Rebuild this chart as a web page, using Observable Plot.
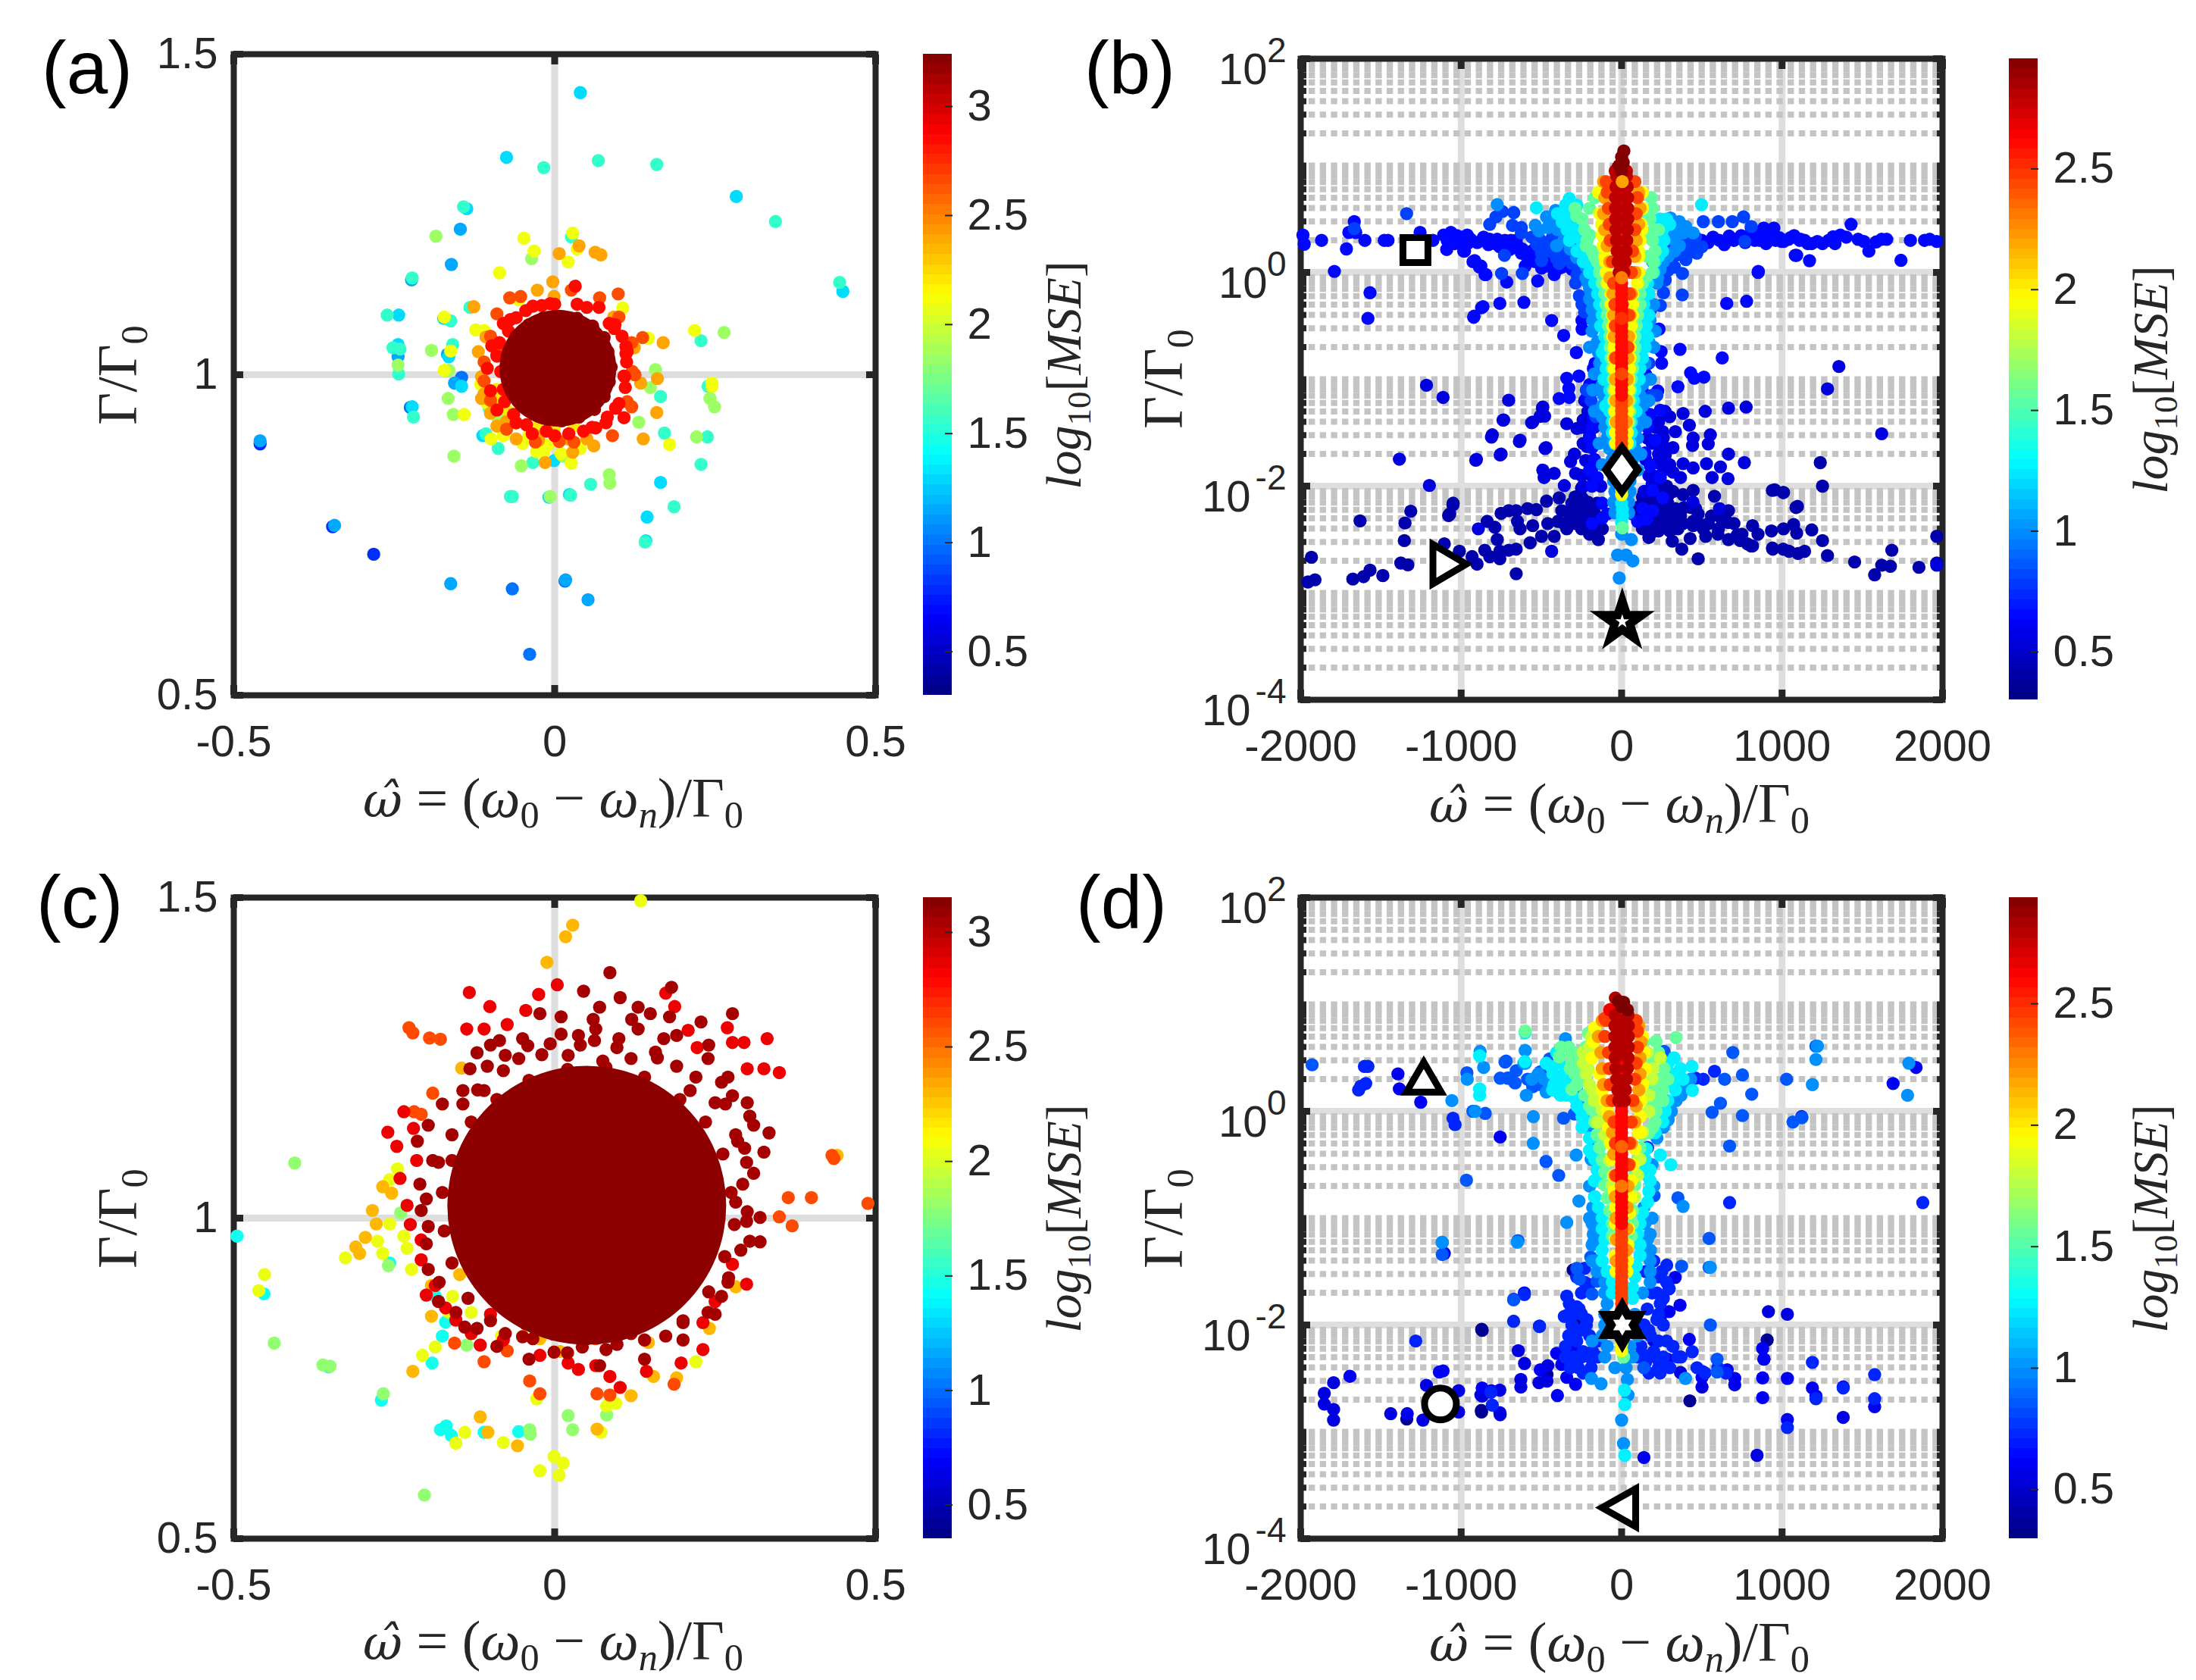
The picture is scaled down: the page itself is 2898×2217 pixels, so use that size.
<!DOCTYPE html>
<html><head><meta charset="utf-8">
<script src="https://cdn.jsdelivr.net/npm/d3@7"></script>
<script src="https://cdn.jsdelivr.net/npm/@observablehq/plot@0.6"></script>
<style>
html,body{margin:0;padding:0;background:#fff;width:2898px;height:2217px;overflow:hidden}
#page{position:relative;width:2898px;height:2217px}
#page svg{position:absolute;overflow:visible;background:transparent}
.t{position:absolute;white-space:nowrap;color:#262626;font-family:"Liberation Serif",serif;line-height:1;transform:translate(-50%,-50%)}
.r{transform:translate(-50%,-50%) rotate(-90deg)}
.t i{font-style:italic}
.t sub{font-size:.68em;vertical-align:-.28em;line-height:0}
.t i.w{font-family:"DejaVu Serif",serif;font-size:.86em}
.p{position:absolute;color:#000;font-family:"Liberation Sans",sans-serif;font-size:98px;line-height:1}
</style></head><body><div id="page"></div>
<script>
const linX=[-0.5,0,0.5], linY=[0.5,1,1.5], logX=[-2000,-1000,0,1000,2000], logExp=[-4,-2,0,2];
const minorMult=[2,3,4,5,6,7,8,9], minorExp=[-4,-3,-2,-1,0,1], oddDecades=[1e-3,1e-1,1e1];
const barA=[0.3,3.24], barB=[0.302,2.956], barC=[0.353,3.152], barD=[0.298,2.937];
const barTicksA=[0.5,1,1.5,2,2.5,3], barTicksB=[0.5,1,1.5,2,2.5];

// panel (a): [x, Γ/Γ0, ...] per colour level
const a08=[-.459,.892,-.346,.763,-.282,.72];
const a10=[-.225,.949,-.066,.666,.016,.678,-.039,.564,-.145,.996];
const a115=[-.459,.897,-.343,.765,-.162,.674,.017,.68,.052,.649,-.161,1.172,-.147,1.227,-.244,1.028,-.167,1.032,-.156,.987,-.223,1.148];
const a13=[.04,1.44,-.075,1.339,.283,1.278,-.137,1.259,-.243,1.093,-.173,1.088,-.244,1.047,-.165,1.028,-.145,.982,-.222,.95,-.112,.905,-.001,.866,.023,.813,-.009,.809,.165,.832,.142,.741,.144,.778,.449,1.13];
const a155=[-.017,1.323,.068,1.334,.159,1.328,.344,1.239,-.142,1.262,-.222,1.151,-.261,1.093,-.162,1.084,-.132,1.105,.026,1.215,-.159,1.047,-.241,1.04,-.252,1.042,-.243,1.001,-.22,.934,-.102,.948,-.107,.908,-.088,.885,-.034,.863,.023,.869,-.069,.81,-.066,.81,.025,.812,.056,.829,.186,.794,.141,.739,.228,.86,.171,.909,.238,.903,.165,.966,.239,.982,.228,1.053,.444,1.144];
const a185=[-.185,1.216,-.036,1.181,-.192,1.038,-.244,1.015,-.165,1.007,-.166,.963,-.158,.938,-.088,.931,-.157,.873,-.052,.858,.013,.873,.085,.844,.086,.831,-.007,.81,.264,1.066,.157,1.008,.149,.98,.242,.963,.249,.95,.131,.926,.221,.903];
const a21=[-.172,1.09,-.048,1.213,-.032,1.193,.028,1.221,.035,1.196,.021,1.176,-.086,1.159,.106,1.104,-.056,1.117,-.123,1.07,-.11,1.069,-.162,1.037,-.141,.938,-.083,.919,-.172,1.007,.146,1.057,.218,1.069,.245,.987,.245,.982,.179,.891,-.017,.88,-.028,.88,.01,.877,.026,.862,-.099,.9,-.041,.904,-.08,.905,-.05,.893,-.01,.89,.04,.885,-.105,.955,-.115,.985];
const a22=[-.072,.942,-.06,.925,-.028,.918,-.001,.916,.03,.92,-.091,.977,-.088,.958];
const a24=[-.126,1.106,.038,1.201,.063,1.191,.072,1.187,.007,1.189,-.003,1.145,-.027,1.132,-.001,1.122,.092,1.09,.169,1.05,.124,1.042,-.119,1.036,-.107,1.059,-.114,.997,-.114,.963,-.075,.927,.16,.994,.134,.987,.159,.941,.138,.9,.061,.889,.028,.879,-.015,.863,-.025,.898,-.09,.92,-.06,.9,-.03,.905,.02,.9,.05,.9,-.1,.94,-.11,.97];
const a265=[-.053,1.122,.026,1.132,.099,1.126,.137,1.058,.121,1.005,.113,.958,.007,.896,-.09,1.032,-.08,1.04,-.1,1.06,-.11,1.02,-.11,.99,-.1,.96,-.075,.915,-.03,.895,.03,.895,.09,.905,.12,.95,.125,1,.12,1.05,.1,1.09,.07,1.12,-.09,1.095,-.07,1.12];
const a285=[.032,1.138,.069,1.105,-.069,1.086,-.034,1.107,-.007,1.111,.035,1.11,.094,1.078,.111,1.044,.111,1.033,.108,.998,.108,.933,.095,.948,.064,.917,-.06,1.089,-.072,1.068,-.086,1.05,-.09,1.029,-.084,1.005,-.08,.977,-.078,.958,-.064,.938,-.044,.922,-.013,.912,.022,.908,.058,.918,.082,.934,.095,.948,.109,.997,.113,1.036,.093,1.072,0,1.11,.05,1.105,.085,1.08,.105,1.06,.112,1.02,.11,.98,.1,.955,.08,.925,.045,.912,0,.905,-.035,.908,-.06,.925,-.09,.945,-.1,.975,-.105,1.01,-.098,1.045,-.08,1.08,-.045,1.1,-.02,1.108];
const a31=[.007,1.091,.035,1.088,.059,1.076,.077,1.058,.083,1.036,.088,1.012,.085,.989,.077,.966,.062,.946,.038,.934,.011,.928,-.017,.934,-.042,.946,-.062,.966,-.072,.989,-.076,1.012,-.072,1.036,-.06,1.06,-.04,1.078,-.017,1.089];
const aCore=[.005,1.01];

// panel (c)
const c145=[-.495,.972,-.453,.882,-.352,.768,-.257,.93,-.27,.716,-.191,.774,-.178,.67,-.169,.676,-.161,.661,-.11,.666,-.056,.667,-.175,.816,-.17,.838,-.186,.878];
const c18=[-.405,1.086,-.437,.805,-.361,.771,-.35,.769,-.267,.726,-.24,1.008,-.259,.926,-.137,.802,-.038,.663,-.039,.67,.028,.67,.081,.693,-.203,.568,.021,.692];
const c205=[.134,1.495,-.326,.938,-.276,.964,-.268,.945,-.235,.972,-.23,.953,-.257,.991,-.461,.887,-.452,.912,-.223,.92,-.245,1.077,-.257,1.06,-.206,.786,-.186,.799,-.023,.606,.007,.599,.013,.618,.072,.666,.081,.707,.095,.711,.22,.776,-.05,.816,-.083,.816,-.028,.718,-.165,.853,-.159,.878,-.13,.853,-.001,.628,-.08,.65,-.154,.649,-.14,.666];
const c23=[-.304,.945,-.31,.955,-.278,.991,-.295,.97,-.284,1.012,-.268,1.049,-.254,1.039,-.221,.761,-.192,.847,-.192,.895,-.148,.912,-.012,1.399,.017,1.439,.028,1.457,-.116,.69,-.104,.666,-.058,.645,.066,.671,.154,.753,.19,.751,.119,.723,-.023,.812,.008,.792,.146,.806,.241,.828,.282,.893,.44,1.098,-.145,1.234];
const c26=[-.227,1.297,-.221,1.289,-.195,1.281,-.178,1.279,-.19,1.195,-.219,1.166,-.208,1.162,.488,1.023,.364,1.032,.4,1.032,.37,.988,.35,1.002,.435,1.093,.432,1.098,.066,.726,-.023,.726,-.039,.746,.186,.741,-.11,.776,-.074,.793,-.156,.805,.086,.724,.13,.849,.064,.812];
const c285=[-.133,1.352,-.101,1.33,-.11,1.295,-.137,1.295,-.074,1.302,-.045,1.324,-.025,1.349,.004,1.364,.331,1.28,.269,1.297,.295,1.274,.277,1.274,.326,1.233,.35,1.227,.3,1.233,.208,1.293,.222,1.266,.187,1.33,.173,1.351,-.26,1.134,-.235,1.166,-.246,1.112,-.241,1.062,-.208,.966,-.208,.935,-.186,.895,-.154,.841,-.116,.802,-.023,.786,.021,.774,.037,.764,.064,.77,.086,.753,.102,.736,.143,.761,.197,.774,.231,.795,.231,.837,.25,.87,.299,.897,.277,.928,-.1,.85,-.045,.835,.01,.825,.065,.83,-.23,1.02,-.225,.99,-.215,1.09,-.22,1.14,-.2,.88,-.17,.86,-.13,.82,-.08,.81];
const c30=[.086,1.383,.045,1.354,.182,1.36,.102,1.344,.13,1.329,.07,1.329,.149,1.319,.179,1.314,.228,1.306,.277,1.319,.13,1.295,-.023,1.319,.01,1.314,.064,1.295,.037,1.285,.01,1.287,-.086,1.277,-.042,1.269,-.007,1.272,.062,1.277,.19,1.285,-.121,1.258,-.077,1.254,.097,1.266,.157,1.259,.239,1.249,.26,1.212,-.132,1.233,-.105,1.237,-.056,1.249,.021,1.254,.075,1.245,.119,1.249,.19,1.237,.211,1.199,.277,1.191,.266,1.178,.304,1.159,.282,1.13,.334,1.133,.31,1.145,.326,1.103,.296,1.109,.299,1.087,.293,1.053,.282,1.025,.32,1.001,.299,.995,.304,.964,.32,.963,.271,.907,.26,.878,.239,.853,.2,.837,.173,.816,.119,.82,.097,.803,.043,.799,-.001,.791,-.034,.812,-.077,.82,-.121,.828,-.154,.853,-.181,.87,-.197,.92,-.197,.987,-.208,1.012,-.21,1.053,-.181,1.087,-.214,1.12,-.197,1.145,-.175,1.178,-.143,1.178,-.143,1.199,-.11,1.199,.25,1.012,.243,1.064,.223,1.112,.191,1.153,.15,1.185,.102,1.205,.05,1.212,-.002,1.205,-.05,1.185,-.091,1.153,-.123,1.112,-.143,1.064,-.15,1.012,-.143,.96,-.123,.912,-.091,.871,-.05,.839,-.002,.819,.05,.812,.102,.819,.15,.839,.191,.871,.223,.912,.243,.96,.275,1.04,.262,1.1,.235,1.15,.195,1.185,.14,1.22,.08,1.235,.02,1.232,-.04,1.215,-.09,1.185,-.13,1.15,-.16,1.09,-.175,1.04,-.172,.98,-.16,.93,-.135,.875,-.1,.84,-.05,.815,.02,.79,.08,.795,.14,.81,.2,.84,.24,.885,.265,.94,.28,.99,.3,1.01,.31,1.07,.285,1.12,.25,1.18,.22,1.22,.16,1.25,.1,1.28,.04,1.27,-.02,1.255,-.08,1.23,-.12,1.2,-.16,1.13,-.19,1.09,-.2,1.03,-.2,.96,-.18,.9,.25,.85,.29,.95,.27,.9,.2,.81,.14,.78,.07,.77,-.14,.83,-.09,.8,-.04,.78,.17,1.28,.12,1.31,.06,1.31,-.05,1.28,-.1,1.27,.24,1.27,.3,1.18,.27,1.22];
const cCore=[.05,1.02];

// panel (b): [x, log10(Γ/Γ0), ...] per colour level
const b042=[-1050,-2.16,-1071,-2.26,-838,-2.33,-790,-2.385,-751,-2.255,-775,-2.5,-704,-2.23,-657,-2.23,-649,-2.33,-633,-2.4,-586,-2.21,-531,-2.22,-554,-2.37,-570,-2.53,-499,-2.47,-460,-2.35,-468,-2.14,-389,-2.11,-397,-2.33,-420,-2.47,-342,-2.4,-294,-2.35,-657,-2.59,-704,-2.6,-759,-2.61,-759,-2.68,-822,-2.66,-853,-2.6,-932,-2.66,-1011,-2.61,-901,-2.73,-657,-2.82,-1105,-2.54,-145,-2.5,-247,-2.11,-200,-2.26,-153,-2.16,-216,-2.35,-184,-2.33,-279,-2.23,-310,-2.16,-373,-2.23,178,-2.04,225,-2.09,288,-2.16,335,-2.21,241,-2.23,320,-2.33,383,-2.35,446,-2.33,509,-2.4,477,-2.26,131,-2.16,115,-2.26,209,-2.35,257,-2.37,351,-2.4,162,-2.28,68,-2.26,954,-2.035,1009,-2.06,1096,-2.19,666,-2.23,663,-2.34,579,-2.095,446,-2.04,383,-2.08,288,-2.09,225,-2.16,461,-2.21,540,-2.35,603,-2.4,666,-2.5,721,-2.456,816,-2.37,784,-2.54,816,-2.56,934,-2.42,1009,-2.4,1072,-2.36,1091,-2.44,942,-2.59,1044,-2.61,1099,-2.63,477,-2.68,375,-2.59,316,-2.515,427,-2.49,524,-2.47,320,-2.4,209,-2.42,170,-2.48,446,-2.37,367,-2.28,257,-2.28,194,-2.14,288,-2.255,1964,-2.47,1684,-2.6,1964,-2.72,1675,-2.75,1621,-2.74,1577,-2.83,1853,-2.76,1452,-2.71,1283,-2.65,1140,-2.61,1185,-2.41,1252,-2.51,1007,-2.59,940,-2.58,806,-2.56,739,-2.51,1252,-2,1238,-1.78,1087,-2.2,1007,-2.06,940,-2.04,-1955,-2.897,-1911,-2.877,-1933,-2.666,-1675,-2.87,-1608,-2.847,-1568,-2.787,-1488,-2.837,-1376,-2.72,-1332,-2.737,-1354,-2.51,-1350,-2.345,-1314,-2.235,-1630,-2.325,-1078,-2.275,-1051,-2.175,-300,-2.3,-260,-2.2,-230,-2.3,-170,-2.25,-130,-2.3,-120,-2.4,-250,-2.4,-200,-2.45,-160,-2.4,-330,-2.25,-360,-2.35,-290,-2.1,-250,-2.02,-210,-2.15,100,-2.2,140,-2.3,180,-2.25,220,-2.3,270,-2.2,300,-2.3,340,-2.32,130,-2.4,170,-2.38,230,-2.42,300,-2.42,390,-2.2,430,-2.2,480,-2.35,560,-2.28,620,-2.3,700,-2.35,750,-2.45,850,-2.45,600,-2.45,130,-2.1,170,-2.05,230,-2,280,-2,320,-2.05];
const b055=[383,-1.32,521,-1.3,666,-1.27,776,-1.26,422,-1.43,335,-1.49,257,-1.49,209,-1.45,446,-1.55,553,-1.52,540,-1.605,442,-1.62,666,-1.7,765,-1.78,383,-1.79,446,-1.83,529,-1.79,616,-1.82,564,-1.92,663,-1.93,320,-1.87,367,-1.92,257,-1.62,320,-1.64,272,-1.71,225,-1.78,194,-1.9,-735,-1.38,-554,-1.4,-491,-1.26,-480,-1.345,-806,-1.52,-633,-1.57,-471,-1.64,-751,-1.7,-905,-1.75,-491,-1.85,-420,-1.88,-483,-1.92,-294,-1.7,-318,-1.77,-287,-1.88,-357,-1.995,-342,-1.416,-239,-1.38,-279,-1.46,-200,-1.53,-216,-1.63,-224,-1.76,-184,-1.83,-153,-1.92,-1385,-1.748,-1198,-1.994,-909,-1.758,-757,-1.708,-811,-1.542,-637,-1.582,-739,-1.382,-561,-1.407,-704,-1.196,-494,-1.271,-508,-1.347,-477,-1.648,-1216,-1.056,-1113,-1.17,1354,-.88,1283,-1.09,1621,-1.51,1964,-2.74,-893,-2.4,-436,-2.61,154,-2.31,445,-2.15,610,-2.21,-230,-1.2,-210,-1.3,-250,-1.45,-170,-1.45,-160,-1.6,-240,-1.6,-170,-1.75,-250,-1.9,-190,-1.9,-240,-2,-130,-2,140,-1.3,180,-1.4,230,-1.4,270,-1.3,160,-1.55,190,-1.6,260,-1.55,150,-1.75,230,-1.7,290,-1.65,170,-1.9,260,-1.85,140,-2.05,190,-1.98,300,-1.35,300,-1.8];
const b065=[-1986,.35,-1978,.264,-1870,.3,-1715,.22,-1700,.374,-1666,.475,-1657,.374,-1600,.3,-1479,.3,-1456,.3,-1256,.374,-1109,.35,-1064,.374,-1087,.3,-1176,.3,-962,.35,-975,.264,-984,.2,-926,.1,-886,.05,-851,-.02,-1790,.01,-1568,-.19,-1581,-.43,-922,-.42,-873,-.33,-1090,.32,-1027,.345,-979,.2,-940,.31,-1090,.215,-916,.11,-877,.06,-846,-.02,-716,-.09,-523,-.08,-609,-.28,-864,-.32,-920,-.41,-436,-.45,-361,-.59,-282,-.75,-759,-.29,-165,-.85,-176,-.9,-266,-.97,-342,-.99,-329,-1.085,-389,-1.18,-326,-1.17,-200,-1.05,-216,-1.17,-153,-1.05,-247,-.45,-246,-.53,1964,.29,1888,.3,1741,.113,1652,.31,1586,.285,1541,.2,1474,.31,1430,.45,1363,.35,1318,.334,1252,.27,1185,.27,1171,.11,1082,.16,1051,.324,984,.324,895,.324,851,0,852,.01,1091,.16,655,-.29,779,-.27,627,-.8,430,-.94,453,-.99,513,-.98,351,-1.07,225,-1.11,131,-1.12,170,-1.17,246,-.74,364,-.72,249,-.85,150,-.955,233,-.53,-822,.31,-775,.31,-727,.3,-696,.215,-657,.3,-625,.18,-601,.06,-562,.14,-499,.04,-420,-.02,-389,.04,-145,-1.3,-176,-1.36,-184,-1.45,-200,-1.55,-184,-1.64,-168,-1.76,-200,-1.85,-153,-1.92,-184,-2,-121,-2.16,-90,-2.26,-184,-2.35,-121,-2.3,178,-1.33,241,-1.29,162,-1.45,209,-1.57,146,-1.69,178,-1.81,241,-1.92,194,-2.04,257,-2.11,131,-2.21,194,-2.23,99,-2.33,154,-2.31,1141,.3,808,.415,886,.415,949,.415,745,.345,855,.345,1075,.345,1115,.31,997,.29,-1040,.27,-1000,.33,-960,.27,-900,.28,-860,.33,-830,.26,-790,.27,-760,.24,-720,.26,-690,.3,-650,.25,-620,.22,-590,.15,-560,.2,-540,.1,-510,.13,-480,.18,-460,.06,-440,.12,-410,.07,-370,.05,-340,.09,-310,.03,500,.3,540,.28,570,.33,610,.3,640,.26,670,.34,700,.3,730,.32,770,.28,800,.34,830,.3,860,.3,900,.27,930,.32,960,.3,1010,.29,1040,.31,1110,.3,1160,.27,1220,.29,1290,.3,1330,.27,1400,.33,1510,.29,1620,.31,1800,.3,1920,.31];
const b08=[-730,.16,-748,-.01,-619,-.01,-783,.52,-822,.45,-680,.44,-625,.42,-743,.57,-672,.56,-625,.37,-531,.27,-515,.32,-436,.27,-405,.13,-499,.11,-389,.085,-342,.16,-310,.085,-263,.06,-279,-.02,-287,-.1,-263,-.22,-247,-.3,-231,-.37,217,-.02,272,-.07,261,-.19,241,-.31,181,-.35,146,-.68,170,-.85,379,-.01,378,-.21,-1340,.55,-1666,.41,509,.475,603,.475,690,.475,760,.52,808,.43,768,.29,469,.18,414,.18,296,.227,304,.13,-560,.33,-520,.25,-500,.18,-470,.28,-450,.2,-430,.33,-400,.18,-380,.28,-360,.13,-340,.21,-320,.3,-300,.13,-280,.09,-260,.16,-240,.04,400,.33,430,.27,460,.33,500,.24,370,.22,340,.16,400,.12,330,.05,290,.02,260,-.02,240,-.08,-170,-1.1,-190,-1.2,-220,-1.1,-160,-1.35,150,-1.2,190,-1.15,220,-1.15,130,-1.4];
const b10=[-223,-.05,-200,-.15,-200,-.25,-184,-.35,-168,-.45,-184,-.55,-152,-.65,-144,-.75,-137,-.85,-129,-.95,-121,-1.05,-113,-1.15,-121,-1.25,-121,-1.35,-105,-1.45,-90,-1.55,-74,-1.65,-58,-1.75,-58,-1.85,-50,-1.95,-42,-2.05,-50,-2.15,-42,-2.25,225,-.05,162,-.25,177,-.45,170,-.65,146,-.85,130,-1.05,115,-1.15,130,-1.25,115,-1.35,99,-1.45,99,-1.55,83,-1.65,68,-1.75,52,-1.95,52,-2.05,44,-2.15,44,-2.25,-775,.635,-538,.44,-468,.52,-412,.58,-436,.46,-515,.39,-405,.25,-373,.39,-310,.39,359,.475,304,.51,383,.37,446,.37,327,.39,241,.44,194,.1,209,.06,0,-2.45,28,-2.645,-25,-2.645,60,-2.5,70,-2.7,-15,-2.86,-460,.42,-430,.5,-400,.4,-380,.5,-360,.3,-340,.42,-320,.22,-300,.3,-280,.14,-260,.25,-240,.15,-220,.05,-210,-.1,-190,-.2,-180,-.45,-200,-.7,-170,-.95,-180,-1.1,-170,-1.3,-140,-1.6,-120,-1.8,400,.43,360,.4,330,.3,300,.34,360,.25,330,.2,290,.15,260,.1,240,.03,220,-.1,200,-.3,210,-.55,200,-.7,180,-1,170,-1.2,150,-1.4,120,-1.7,100,-1.85];
const b125=[-340,.6,-294,.55,-356,.5,-340,.4,-325,.3,-278,.2,-239,.1,-200,0,-168,-.1,-144,-.2,-137,-.3,-121,-.4,-113,-.5,-105,-.6,-105,-.7,-97,-.8,-97,-.9,-82,-1,-74,-1.1,-74,-1.2,-74,-1.3,-58,-1.4,-58,-1.5,-42,-1.6,240,.5,256,.4,264,.3,256,.2,209,.1,200,0,162,-.1,146,-.2,138,-.3,138,-.4,154,-.5,162,-.6,146,-.7,130,-.8,115,-.9,83,-1,83,-1.1,75,-1.2,68,-1.3,60,-1.4,60,-1.5,52,-1.6,-531,.605,498,.634,0,-2.16,5,-2.22,5,-2.28,0,-2.34,-326,.69,-350,.63,-279,.63,-400,.55,-370,.47,-310,.5,-280,.4,-260,.32,-240,.27,-220,.15,-180,.05,-150,-.2,-130,-.5,-120,-.75,-110,-1,-100,-1.25,280,.5,300,.45,250,.35,230,.15,220,.25,170,-.2,170,-.4,130,-.6,110,-1,90,-1.3];
const b155=[-168,.7,-200,.6,-247,.5,-231,.4,-215,.3,-184,.2,-152,.1,-137,0,-121,-.1,-105,-.2,-97,-.3,-90,-.4,-82,-.5,-74,-.6,-71,-.7,-66,-.8,-58,-.9,-52,-1,-52,-1.1,-50,-1.2,-46,-1.3,-42,-1.4,185,.7,193,.6,177,.5,200,.4,193,.3,209,.2,200,.1,193,0,130,-.1,115,-.2,115,-.3,100,-.4,91,-.5,83,-.6,83,-.7,75,-.8,68,-.9,60,-1,55,-1.1,52,-1.2,52,-1.3,49,-1.4,5,-2.39,-280,.53,-290,.6,-220,.25,-200,.35,-170,.15,-120,.05,140,.55,170,.35,160,.15,230,.4,150,-.05];
const b195=[-145,.75,-137,.55,-121,.35,-105,.15,-97,0,-90,-.1,-66,-.2,-66,-.3,-58,-.4,-58,-.5,-55,-.6,-50,-.7,-50,-.8,-46,-.9,-42,-1,-42,-1.1,-42,-1.2,-42,-1.3,-39,-1.4,-39,-1.5,-36,-1.6,130,.75,130,.6,122,.45,115,.3,107,.15,107,0,99,-.1,70,-.2,68,-.3,68,-.4,60,-.5,55,-.6,52,-.7,52,-.8,49,-.9,44,-1,44,-1.1,39,-1.2,39,-1.3,36,-1.4,36,-1.5,36,-1.6,0,-2.08,0,-2.03,-125,.45,-115,.25,-100,.1,125,.4,105,.2];
const b22=[-113,.85,-105,.7,-113,.55,-105,.4,-90,.25,-74,.1,-74,-.05,-55,-.2,-50,-.4,-46,-.6,-42,-.8,-39,-1,-36,-1.2,-33,-1.4,107,.75,115,.6,107,.45,91,.3,83,.15,83,0,60,-.2,52,-.4,44,-.6,39,-.8,36,-1,33,-1.2,30,-1.4];
const b245=[-97,.85,-90,.75,-82,.6,-77,.45,-71,.3,-58,.1,-50,-.1,-42,-.3,-39,-.5,-36,-.8,83,.85,99,.7,91,.55,83,.4,68,.2,60,0,49,-.2,44,-.4,39,-.7,0,-1.2,0,-1.25,0,-1.3,0,-1.35,0,-1.4,0,-1.45,0,-1.5,0,-1.55,0,-1.6,0,-1.65,0,-1.7,0,-1.75,0,-1.8,0,-1.85];
const b26=[0,.45,0,.4,3,.35,0,.3,-3,.25,0,.2,0,.15,3,.1,0,.05,0,0,0,-.1,0,-.15,0,-.2,0,-.25,3,-.3,0,-.35,0,-.4,0,-.45,0,-.5,0,-.55,0,-.6,0,-.65,0,-.7,0,-.75,0,-.8,0,-.85,0,-.9,0,-.95,0,-1,0,-1.05,0,-1.1,0,-1.15];
const b275=[0,.9,0,.85,0,.8,0,.75,0,.7,0,.65,0,.6,0,.55,0,.5];
const b28=[-30,.9,30,.9,-35,.8,35,.8,-38,.7,38,.7,-38,.6,38,.6,-38,.5,38,.5,-36,.4,36,.4,-32,.3,32,.3,-28,.2,28,.2,-22,.1,22,.1,-15,0,15,0,-40,.95,30,.95,-25,.98,15,.97];
const b295=[14,1.137,0,1.08,10,1.03,-15,1,0,.94];
const bTop=[0,-.05,0,-.43,0,-.95,4,.85];
const bTopCols=[2.3,2.5,2.45,2.2];

// panel (d)
const d035=[-872,-2.04,-874,-2.8,907,-2.14,425,-2.71,139,-2.29,-302,-1.485,-255,-1.99,-465,-2.465,-1339,-2.88,-873,-2.815,-869,-2.05];
const d055=[-1795,-2.54,-1853,-2.64,-1853,-2.74,-1795,-2.79,-1795,-2.89,-1439,-2.83,-1238,-2.89,-1216,-2.565,-1016,-2.615,-1016,-2.815,-869,-2.665,-757,-2.84,-644,-2.24,-605,-2.36,-628,-2.51,-628,-2.58,-465,-2.525,-460,-2.38,-877,-2.655,-759,-2.61,-759,-2.82,915,-1.875,1033,-1.9,844,-3.22,887,-2.32,367,-2.445,501,-2.58,1381,-2.865,-515,-2.54,202,-2.15];
const d06=[-672,-1.76,-606,-1.7,-512,-2.01,-405,-2.265,-373,-2.37,-342,-2.49,-287,-2.555,-400,-2.66,-294,-2.23,-294,-2.35,-1113,-2.43,-1105,-1.33,-507,-2.42,-1693,-2.48,-1136,-2.44,-869,-2.59,-813,-2.615,334,-1.555,296,-1.66,364,-1.815,296,-1.875,241,-1.945,422,-2.135,288,-2.32,501,-2.49,509,-2.44,705,-2.5,705,-2.56,658,-2.42,879,-2.22,887,-2.32,879,-2.495,879,-2.68,1033,-2.5,1033,-2.885,139,-3.24,-1336,-2.83,-1252,.085,-1394,.35,-1385,.21,1211,-2.665,1189,-2.59,1381,-2.58,1577,-2.765,1692,.26,-757,-.24,1835,.41];
const d07=[-1581,.42,-1595,.26,-1639,.2,-1626,.235,-1603,.42,-1051,-.065,-1038,-.125,-428,.35,-384,.16,-392,.205,-673,-1.965,-606,-1.715,-512,-2.015,-342,-1.73,-326,-1.8,-357,-1.92,-310,-2.11,-279,-1.83,-806,-2.75,-814,-2.63,-1283,-2.15,281,-1.44,296,-1.66,241,-1.8,257,-2.33,162,-2.29,225,-2.32,1189,-2.35,1211,-2.69,1381,-2.59,1577,-2.69,1577,-2.465,673,-.855,1122,-.05,-231,-1.47,-200,-1.62,-250,-1.7,-265,-1.85,-300,-1.9,-216,-1.95,-260,-2.05,-280,-2.15,-200,-2.1,-240,-2.25,-200,-2.3,-150,-2.3,-300,-2.3,-350,-2.2,-270,-2.4,-190,-2.4,150,-1.5,230,-1.55,190,-1.7,160,-1.85,220,-1.95,140,-2,180,-2.1,230,-2.15,120,-2.2,200,-2.25,150,-2.35,100,-2.3,170,-2.45,230,-2.4,162,-.34,1033,-2.96,579,.375,509,.3,461,.31,1877,-.855,-330,-1.9,-310,-2,-330,-2.1,-290,-2.1,-350,-2.3,-320,-2.4,-250,-2.3,-240,-2.45,-180,-2.25,-150,-2.15,-220,-2,170,-2.05,120,-2,230,-1.9,260,-2,280,-2.15,320,-2.2,350,-2.3,300,-2.4,260,-2.3,240,-2.45,370,-2.3,440,-2.25,470,-2.4,520,-2.45,600,-2.4,650,-2.45,-230,-1.6,-280,-1.55,-250,-1.9,200,-1.4,250,-1.5,280,-1.6,220,-1.7,260,-1.75];
const d085=[-1929,.435,-757,.31,-726,.46,-704,.31,-720,.47,-657,.38,-712,.31,-664,.265,-586,.3,-554,.23,-507,.37,-507,.25,-449,.49,-967,-.645,-362,-.065,-294,-.025,-471,-.47,-392,-.6,-646,-1.21,-927,0,-850,-.02,-964,.36,265,.56,374,-1.45,202,-.79,351,-.81,545,-1.19,564,-.01,616,.075,753,-.04,642,.3,693,.55,753,.34,811,.16,673,-.325,1068,-.1,1028,.3,1211,.61,1124,-.06,545,-1.46,553,-2,595,-2.32,595,-2.44,-1118,-1.23,-1118,-1.34,-673,-1.765,-279,-1.47,-263,-1.57,-192,-1.365,-184,-1.71,-153,-1.59,138,-2.4];
const d10=[-609,.45,-594,.15,-601,.57,-962,.3,-882,.56,-860,.41,-913,0,-600,.45,-350,.68,-1118,-1.225,-650,-1.225,-550,-.05,-551,-.3,-283,-.41,-266,-.84,-342,-1.04,-1058,.1,383,-.89,398,-2.5,553,-1.46,1189,.25,1211,.485,1220,.61,1790,.45,1782,.15,-168,-.8,-160,-.95,-184,-1.05,-176,-1.15,-184,-1.25,-184,-1.4,-153,-1.5,-105,-1.6,-105,-1.7,-90,-1.8,-105,-1.9,-105,-2,-121,-2.1,-184,-2.15,-90,-2.2,-105,-2.3,-42,-2.4,139,-.9,146,-1.05,178,-1.15,162,-1.2,146,-1.3,178,-1.4,178,-1.5,178,-1.6,131,-1.7,83,-1.9,99,-2.1,52,-2.2,68,-2.3,28,-2.4,-188,-2.5,-128,-2.55,36,-2.51,40,-2.655,12,-3.11,0,-2.89,-560,.3,-520,.35,-480,.3,-470,.18,-450,.25,-400,.25,-340,.35,-310,.3,-280,.2,-250,.1,-230,0,-210,-.15,-170,-.3,-190,-.45,-200,-.7,-180,-.9,-200,-1,-170,-1.2,-160,-1.4,430,.3,400,.25,370,.15,340,.1,310,0,290,-.08,260,-.15,220,-.25,190,-.5,200,-.7,190,-1,180,-1.3];
const d125=[-405,.55,-389,.45,-357,.35,-389,.25,-342,.25,-342,.15,-279,.05,-247,-.05,-247,-.15,-200,-.25,-184,-.4,-168,-.45,-153,-.55,-145,-.65,-168,-.8,-145,-.9,-121,-1,-121,-1.1,-105,-1.2,-121,-1.3,-121,-1.4,-90,-1.5,-58,-1.6,-58,-1.7,327,.5,367,.4,383,.3,335,.2,288,.1,272,0,257,-.1,194,-.2,154,-.35,146,-.45,146,-.55,178,-.65,170,-.75,162,-.85,131,-.95,115,-1.05,100,-1.15,115,-1.25,115,-1.35,91,-1.45,83,-1.55,68,-1.65,68,-1.75,-603,.465,-885,.15,-885,.21,-885,.52,-601,.735,-428,.35,-420,.25,-200,-.365,241,-.41,307,-.5,178,-.55,441,.195,438,.42,18,-2.61,20,-3.22,20,-2.745,-470,.45,-440,.42,-430,.2,-380,.15,-340,.4,-300,.35,-290,.12,-260,.02,-220,-.1,-170,-.65,-130,-.3,290,.45,330,.35,300,.25,340,.3,230,-.05,210,-.2,160,-.6];
const d155=[-601,.75,-376,.6,-389,.51,-310,.525,-208,.73,-224,.6,-247,.49,-271,.37,-279,.25,-184,.135,-184,.016,-168,-.1,-153,-.22,-137,-.34,-121,-.456,-105,-.57,-105,-.69,-90,-.81,-74,-.93,-58,-1.05,-58,-1.165,139,.65,178,.5,194,.4,241,.3,209,.3,288,.3,178,.2,257,.2,178,.1,257,.1,178,0,209,-.1,194,-.15,131,-.22,115,-.34,100,-.45,83,-.57,83,-.69,75,-.81,68,-.93,68,-1.05,60,-1.165,214,.655,339,.69,-310,.44,-310,.205,12,-2.3,-330,.6,-300,.55,-270,.5,-320,.4,-290,.35,-250,.3,-230,.15,-200,.05,-140,-.05,-120,-.25,-100,-.45,-85,-.7,230,.55,265,.4,250,.3,215,.2,225,.1,215,0,170,-.2];
const d18=[-200,.49,-200,.25,-121,.016,-105,-.22,-74,-.456,-58,-.69,194,.4,241,.5,131,-.195,115,-.45,100,-.6,83,-.8,-200,.6,-240,.55,-190,.7,-208,.4,-170,.1,-150,-.1,-240,.45,-220,.35,-180,.2,-130,.2,-100,-.1,160,.55,190,.3,170,.15,170,0];
const d195=[-168,.78,-176,.65,-184,.5,-137,.35,-121,.2,-105,.1,-90,0,-82,-.15,-71,-.3,-58,-.45,-50,-.6,-46,-.75,-39,-.9,-38,-1.05,-39,-1.2,-39,-1.35,-35,-1.5,131,.7,139,.55,146,.4,131,.25,122,.1,115,-.05,107,-.2,83,-.35,71,-.5,60,-.65,55,-.8,49,-.95,44,-1.1,39,-1.25,36,-1.4,33,-1.5,0,-2.24,0,-2.18,115,-.195];
const d22=[-121,.85,-145,.7,-129,.55,-121,.4,-113,.25,-90,.1,-77,-.05,-58,-.2,-49,-.4,-42,-.6,-39,-.8,-35,-1,-33,-1.2,-33,-1.4,107,.8,122,.65,115,.5,115,.35,107,.2,91,.05,83,-.1,60,-.3,49,-.5,39,-.7,36,-.9,33,-1.1,30,-1.3];
const d245=[-105,.87,-97,.85,-105,.7,-82,.55,-77,.4,-71,.25,-58,.1,-47,-.1,-39,-.3,-35,-.6,91,.85,99,.75,99,.6,91,.45,83,.3,71,.1,60,-.1,49,-.3,44,-.5,0,-1.1,0,-1.15,0,-1.2,0,-1.25,0,-1.3,0,-1.35,0,-1.4,0,-1.45,0,-1.5,0,-1.55,0,-1.6,0,-1.65,0,-1.7,0,-1.75,0,-1.8,0,-1.85,0,-1.9];
const d26=[0,.5,0,.45,0,.4,3,.35,0,.3,0,.25,0,.2,-3,.15,0,.1,0,.05,0,0,0,-.05,0,-.1,0,-.15,0,-.2,0,-.25,0,-.3,0,-.35,0,-.4,0,-.45,0,-.5,0,-.55,0,-.6,0,-.65,0,-.7,0,-.75,0,-.8,0,-.85,0,-.9,0,-.95,0,-1,0,-1.05];
const d265=[-74,.95];
const d28=[-39,1.06,-40,.9,40,.9,-42,.8,42,.8,-42,.7,42,.7,-42,.6,42,.6,-40,.5,40,.5,-36,.4,36,.4,-30,.3,30,.3,-24,.2,24,.2,-18,.1,18,.1,0,.85,0,.8,0,.75,0,.7,0,.65,0,.6,0,.55];
const d295=[13,1.02,-19,1.03,36,.95,0,.98];
const dTop=[0,-.33,0,-.7];
const dTopCols=[2.35,2.3];

// marker positions on the (b) and (d) panels: x, log10(Γ/Γ0)
const bSquare=[-1285,.21], bRightTri=[-1105,-2.73], bDiamond=[2,-1.846], bStar=[4,-3.267];
const dUpTri=[-1233,.289], dCircle=[-1129,-2.74], dHexagram=[4,-2], dLeftTri=[-14,-3.71];

const jet=d3.piecewise(d3.interpolateRgb,["#000080","#0000ff","#0080ff","#00ffff","#80ff80","#ffff00","#ff8000","#ff0000","#800000"]);
const ink="#262626", sans="Liberation Sans, sans-serif";
const page=document.getElementById("page");
const DOT=8.7;

function table(groups,log){
  const out=[];
  for(const [c,flat] of groups) for(let i=0;i<flat.length;i+=2) out.push({x:flat[i],y:log?10**flat[i+1]:flat[i+1],c});
  return out;
}
function path(pts){return {draw(ctx){pts.forEach((p,i)=>i?ctx.lineTo(p[0],p[1]):ctx.moveTo(p[0],p[1]));ctx.closePath();}};}
function star(n,R,r){const p=[];for(let i=0;i<2*n;i++){const a=-Math.PI/2+i*Math.PI/n,q=i%2?r:R;p.push([q*Math.cos(a),q*Math.sin(a)]);}return path(p);}
const symSquare=path([[-16.5,-16.5],[16.5,-16.5],[16.5,16.5],[-16.5,16.5]]);
const symRight=path([[-15,-26],[29,0],[-15,26]]);
const symLeft=path([[-23,0],[21.5,-25],[21.5,25]]);
const symUp=path([[0,-24],[23,15.5],[-23,15.5]]);
const symDiamond=path([[0,-29],[21,0],[0,29],[-21,0]]);
function marker(pos,symbol,strokeWidth){
  return Plot.dot([{x:pos[0],y:10**pos[1]}],{x:"x",y:"y",symbol,r:21,fill:"white",stroke:"black",strokeWidth,strokeLinejoin:"miter",strokeMiterlimit:12});
}
function place(svg,left,top){svg.style.left=left+"px";svg.style.top=top+"px";page.appendChild(svg);}

const ML=240,MR=40,MT=40,MB=110,W=847,H=846;
function frameParts(){return Plot.frame({stroke:ink,strokeWidth:8});}
function axisParts(xt,yt,ym){
  const tick={stroke:ink,strokeWidth:9,tickSize:-13,text:null,label:null};
  return [
    Plot.axisX(xt,{anchor:"bottom",...tick}),Plot.axisX(xt,{anchor:"top",...tick}),
    Plot.axisY(yt,{anchor:"left",...tick}),Plot.axisY(yt,{anchor:"right",...tick}),
    ym?Plot.axisY(ym,{anchor:"left",...tick,tickSize:-8,strokeWidth:8}):null,
    ym?Plot.axisY(ym,{anchor:"right",...tick,tickSize:-8,strokeWidth:8}):null,
    Plot.axisX(xt,{anchor:"bottom",tickSize:0,tickPadding:39,fontSize:58,fontFamily:sans,fill:ink,label:null,tickFormat:d=>String(d)})
  ];
}
function linearPanel(left,top,dom,groups,core,coreR,coreC){
  const pts=table(groups,false);
  const svg=Plot.plot({width:ML+W+MR,height:MT+H+MB,marginLeft:ML,marginRight:MR,marginTop:MT,marginBottom:MB,
    x:{domain:[-.5,.5]},y:{domain:[.5,1.5]},color:{type:"linear",domain:dom,interpolate:jet},
    style:{background:"transparent",overflow:"visible"},
    marks:[
      Plot.ruleX([0],{stroke:"#dedede",strokeWidth:9}),Plot.ruleY([1],{stroke:"#dedede",strokeWidth:9}),
      frameParts(),...axisParts(linX,linY,null),
      Plot.axisY(linY,{anchor:"left",tickSize:0,tickPadding:21,fontSize:58,fontFamily:sans,fill:ink,label:null,tickFormat:d=>String(d)}),
      Plot.dot(pts,{x:"x",y:"y",fill:"c",r:DOT}),
      Plot.dot(table([[coreC,core]],false),{x:"x",y:"y",fill:"c",r:coreR})
    ]});
  place(svg,left-ML,top-MT);
}
function logPanel(left,top,dom,groups,topRows,markers){
  const pts=table(groups,true).concat(topRows);
  const minor=[];
  for(const k of minorExp) for(const m of minorMult) minor.push(m*10**k);
  minor.push(...oddDecades);
  const pos=logExp.filter(e=>e>=0), neg=logExp.filter(e=>e<0);
  const ten=(list,dx)=>Plot.text(list,{frameAnchor:"left",y:e=>10**e,text:()=>"10",textAnchor:"end",lineAnchor:"middle",dx,dy:15,fontSize:58,fontFamily:sans,fill:ink});
  const svg=Plot.plot({width:ML+W+MR,height:MT+H+MB,marginLeft:ML,marginRight:MR,marginTop:MT,marginBottom:MB,
    x:{domain:[-2000,2000]},y:{type:"log",domain:[1e-4,1e2]},color:{type:"linear",domain:dom,interpolate:jet},
    style:{background:"transparent",overflow:"visible"},
    marks:[
      Plot.ruleX([-1000,0,1000],{stroke:"#dedede",strokeWidth:9}),
      Plot.ruleY([1,1e-2],{stroke:"#dedede",strokeWidth:9}),
      Plot.ruleY(minor,{stroke:"#c4c4c4",strokeWidth:8,strokeDasharray:"8.3 6.4",strokeDashoffset:3.7}),
      frameParts(),...axisParts(logX,logExp.map(e=>10**e),minor),
      ten(pos,-44),ten(neg,-66),
      Plot.text(logExp,{frameAnchor:"left",y:e=>10**e,text:e=>String(e),textAnchor:"end",lineAnchor:"middle",dx:-19,dy:-10,fontSize:46,fontFamily:sans,fill:ink}),
      Plot.dot(pts,{x:"x",y:"y",fill:"c",r:DOT}),
      ...markers
    ]});
  place(svg,left-ML,top-MT);
}
function colorbar(left,top,dom,ticks){
  const n=64,step=(dom[1]-dom[0])/n;
  const levels=d3.range(n).map(i=>dom[0]+i*step);
  const svg=Plot.plot({width:38+200,height:MT+H+MB,marginLeft:0,marginRight:200,marginTop:MT,marginBottom:MB,
    x:{domain:[0,1],axis:null},y:{domain:dom},color:{type:"linear",domain:dom,interpolate:jet},
    style:{background:"transparent",overflow:"visible"},
    marks:[
      Plot.rect(levels,{x1:()=>0,x2:()=>1,y1:d=>d,y2:d=>d+step,fill:d=>d+step/2,shapeRendering:"crispEdges"}),
      Plot.axisY(ticks,{anchor:"right",tickSize:-10,strokeWidth:2,stroke:ink,text:null,label:null}),
      Plot.axisY(ticks,{anchor:"right",tickSize:0,tickPadding:20,fontSize:58,fontFamily:sans,fill:ink,label:null,tickFormat:d=>String(d)})
    ]});
  place(svg,left,top-MT);
}
function html(cls,cx,cy,size,h){const d=document.createElement("div");d.className=cls;d.style.left=cx+"px";d.style.top=cy+"px";d.style.fontSize=size+"px";d.innerHTML=h;page.appendChild(d);}
function letter(text,x,y){const d=document.createElement("div");d.className="p";d.style.left=x+"px";d.style.top=y+"px";d.textContent=text;page.appendChild(d);}
const xLabel='<i class="w">ω̂</i> = (<i>ω</i><sub>0</sub> − <i>ω<sub>n</sub></i>)/Γ<sub>0</sub>';
const yLabel='Γ/Γ<sub>0</sub>';
const barLabel='<i>log</i><sub>10</sub>[<i>MSE</i>]';

linearPanel(308,71,barA,[[.8,a08],[1,a10],[1.15,a115],[1.3,a13],[1.55,a155],[1.85,a185],[2.1,a21],[2.2,a22],[2.4,a24],[2.65,a265],[2.85,a285],[3.18,a31]],aCore,77,3.21);
linearPanel(308,1184,barC,[[1.45,c145],[1.8,c18],[2.05,c205],[2.3,c23],[2.6,c26],[2.85,c285],[3.05,c30]],cCore,184,3.12);
logPanel(1716,77,barB,[[.42,b042],[.55,b055],[.65,b065],[.8,b08],[1,b10],[1.25,b125],[1.55,b155],[1.95,b195],[2.2,b22],[2.45,b245],[2.6,b26],[2.75,b275],[2.8,b28],[2.95,b295]],
  bTop.reduce((o,v,i,arr)=>{if(i%2==0)o.push({x:v,y:10**arr[i+1],c:bTopCols[i/2]});return o;},[]),
  [marker(bSquare,symSquare,9),marker(bRightTri,symRight,9),marker(bDiamond,symDiamond,10),marker(bStar,star(5,27.5,10.5),11)]);
logPanel(1716,1184,barD,[[.35,d035],[.55,d055],[.6,d06],[.72,d07],[.85,d085],[1,d10],[1.25,d125],[1.55,d155],[1.8,d18],[1.95,d195],[2.2,d22],[2.45,d245],[2.6,d26],[2.65,d265],[2.8,d28],[2.95,d295]],
  dTop.reduce((o,v,i,arr)=>{if(i%2==0)o.push({x:v,y:10**arr[i+1],c:dTopCols[i/2]});return o;},[]),
  [marker(dUpTri,symUp,9),Plot.dot([{x:dCircle[0],y:10**dCircle[1]}],{x:"x",y:"y",r:21,fill:"white",stroke:"black",strokeWidth:9}),marker(dHexagram,star(6,25.5,14.7),11.5),marker(dLeftTri,symLeft,9)]);
colorbar(1218,71,barA,barTicksA);
colorbar(2651,77,barB,barTicksB);
colorbar(1218,1184,barC,barTicksA);
colorbar(2651,1184,barD,barTicksB);

for(const [cx,cy] of [[730,1053],[2137,1060],[730,2165],[2137,2167]]) html("t",cx,cy,74,xLabel);
for(const [cx,cy] of [[155,495],[1535,500],[155,1608],[1535,1608]]) html("t r",cx,cy,74,yLabel);
for(const [cx,cy] of [[1404,495],[2838,501],[1404,1608],[2838,1608]]) html("t r",cx,cy,66,barLabel);
letter("(a)",55,40);letter("(b)",1431,40);letter("(c)",48,1141);letter("(d)",1420,1141);
</script></body></html>
